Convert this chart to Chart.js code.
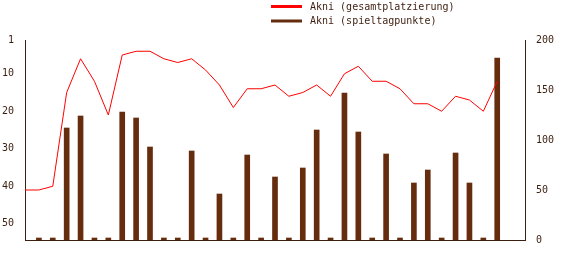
<!DOCTYPE html>
<html><head><meta charset="utf-8">
<script src="https://cdn.jsdelivr.net/npm/chart.js@4/dist/chart.umd.min.js"></script>
<style>html,body{margin:0;padding:0;background:#fff;} #wrap{width:575px;height:280px;}</style>
</head><body><div id="wrap"><canvas id="c" width="575" height="280"></canvas></div>
<script>
// Spieltage (0 = start point of the placement line)
const spieltage = [0,1,2,3,4,5,6,7,8,9,10,11,12,13,14,15,16,17,18,19,20,21,22,23,24,25,26,27,28,29,30,31,32,33,34];
// Gesamtplatzierung for each point of the line (spieltage 0..34)
const platzierung = [41,41,40,15,6,12,21,5,4,4,6,7,6,9,13,19,14,14,13,16,15,13,16,10,8,12,12,14,18,18,20,16,17,20,12];
// Spieltagpunkte for spieltage 1..34
const punkte = [0,0,112,124,0,0,128,122,93,0,0,89,0,46,0,85,0,63,0,72,110,0,147,108,0,86,0,57,70,0,87,57,0,182];
const rankTicks = [1,10,20,30,40,50];
const pointTicks = [0,50,100,150,200];
const seriesLabels = ['Akni (gesamtplatzierung)', 'Akni (spieltagpunkte)'];

const textColor = '#3c1e0f';
const axisColor = '#3c1e0f';
const fontSpec = {family: '"DejaVu Sans Mono", "Liberation Mono", monospace', size: 10};

const legendPlugin = {
  id: 'customLegend',
  afterDraw(chart) {
    const c = chart.ctx;
    chart.data.datasets.forEach((ds, i) => {
      const y = 6.5 + i * 14.5;
      c.save();
      c.strokeStyle = ds.type === 'line' ? ds.borderColor : ds.backgroundColor;
      c.lineWidth = 3;
      c.beginPath(); c.moveTo(271, y); c.lineTo(302, y); c.stroke();
      c.fillStyle = textColor;
      c.font = '10px "DejaVu Sans Mono", "Liberation Mono", monospace';
      c.textBaseline = 'middle';
      c.textAlign = 'left';
      c.fillText(ds.label, 310, y + 0.5);
      c.restore();
    });
  }
};

new Chart(document.getElementById('c'), {
  data: {
    datasets: [
      {
        type: 'line', label: seriesLabels[0],
        data: spieltage.map((s, i) => ({x: s, y: platzierung[i]})),
        borderColor: '#ff0000', backgroundColor: '#ff0000', borderWidth: 1,
        pointRadius: 0, tension: 0, fill: false,
        xAxisID: 'x', yAxisID: 'yRank', order: 0
      },
      {
        type: 'bar', label: seriesLabels[1],
        data: punkte.map((p, i) => ({x: spieltage[i + 1], y: p})),
        backgroundColor: '#652c0e', borderWidth: 0,
        barThickness: 5, minBarLength: 2,
        xAxisID: 'x', yAxisID: 'yPts', order: 1
      }
    ]
  },
  options: {
    responsive: false, animation: false,
    layout: {padding: {top: 40, bottom: 40, left: 0, right: 0}},
    plugins: {legend: {display: false}, tooltip: {enabled: false}},
    scales: {
      x: {
        type: 'linear', min: 0, max: 36, offset: false,
        ticks: {display: false},
        grid: {display: false, drawTicks: false, offset: false},
        border: {display: true, color: axisColor, width: 1},
        afterFit(s) { s.height = 0; }
      },
      yRank: {
        type: 'linear', position: 'left', reverse: true, min: 1, max: 54.33,
        afterBuildTicks(s) { s.ticks = rankTicks.map(v => ({value: v})); },
        ticks: {color: textColor, font: fontSpec, padding: 3},
        grid: {display: false},
        border: {display: true, color: axisColor, width: 1},
        afterFit(s) { s.width = 25; }
      },
      yPts: {
        type: 'linear', position: 'right', min: 0, max: 200,
        afterBuildTicks(s) { s.ticks = pointTicks.map(v => ({value: v})); },
        ticks: {color: textColor, font: fontSpec, padding: 3},
        grid: {display: false},
        border: {display: true, color: axisColor, width: 1},
        afterFit(s) { s.width = 50; }
      }
    }
  },
  plugins: [legendPlugin]
});
</script>
</body></html>
